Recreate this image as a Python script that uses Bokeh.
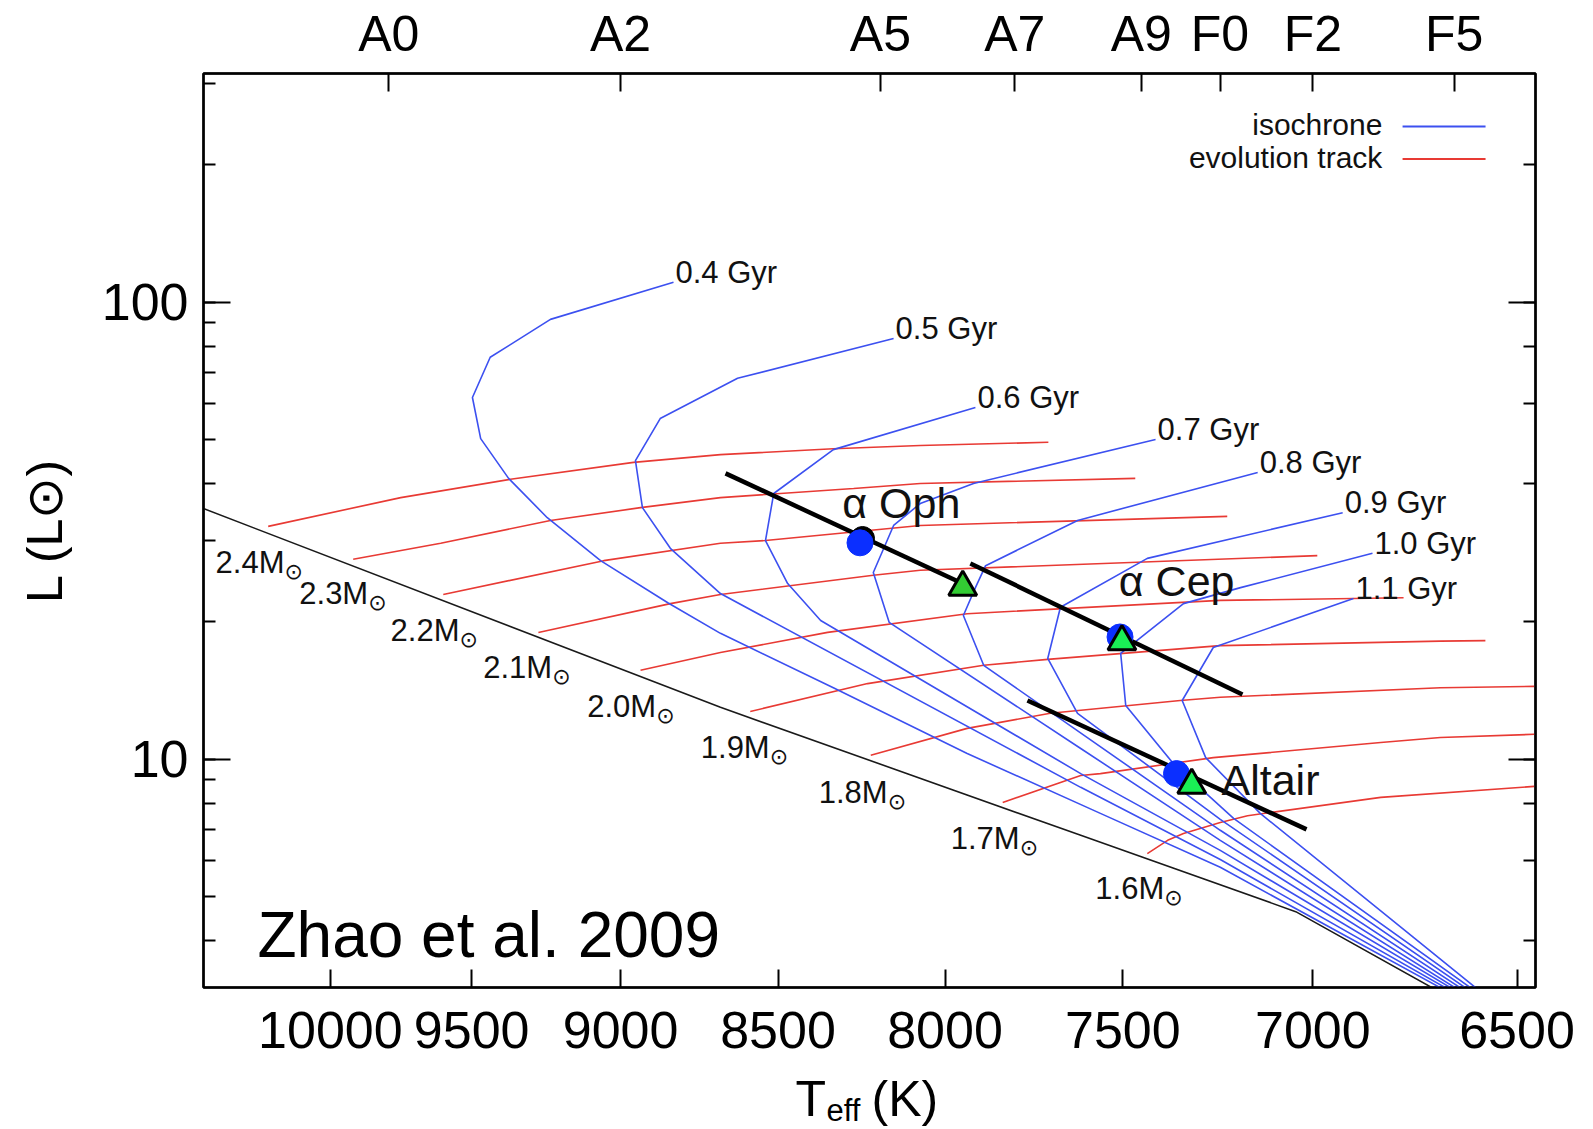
import numpy as np
from bokeh.plotting import figure
from bokeh.layouts import column
from bokeh.models import Range1d, FixedTicker, LogAxis, NumeralTickFormatter
from bokeh.core.properties import value
from bokeh.embed import file_html
from bokeh.resources import INLINE

FONT = "Liberation Sans"

# ---------------- data (log10 Teff [K], log10 L [Lsun]) ----------------
zams_logT = [4.0200, 3.9385, 3.8817, 3.8478, 3.8261]
zams_logL = [1.548, 1.113, 0.833, 0.666, 0.498]

track_masses = ["2.4", "2.3", "2.2", "2.1", "2.0", "1.9", "1.8", "1.7", "1.6"]
track_logT = [
    [4.0098, 3.9889, 3.9716, 3.9522, 3.9385, 3.9207, 3.9070, 3.8868],
    [3.9964, 3.9826, 3.9653, 3.9511, 3.9385, 3.9175, 3.9070, 3.8731],
    [3.9822, 3.9569, 3.9385, 3.9314, 3.9070, 3.8586],
    [3.9672, 3.9464, 3.9385, 3.9144, 3.9070, 3.8444],
    [3.9511, 3.9385, 3.9216, 3.8996, 3.8597, 3.8308],
    [3.9338, 3.9153, 3.8970, 3.8869, 3.8597, 3.8250, 3.8179],
    [3.9148, 3.8996, 3.8865, 3.8660, 3.8597, 3.8250, 3.8102],
    [3.8940, 3.8817, 3.8786, 3.8608, 3.8344, 3.8250, 3.8102],
    [3.8712, 3.8680, 3.8655, 3.8597, 3.8554, 3.8344, 3.8102],
]
track_logL = [
    [1.509, 1.572, 1.612, 1.649, 1.666, 1.679, 1.686, 1.693],
    [1.437, 1.472, 1.522, 1.550, 1.572, 1.592, 1.603, 1.614],
    [1.360, 1.434, 1.472, 1.478, 1.511, 1.531],
    [1.277, 1.340, 1.360, 1.402, 1.413, 1.445],
    [1.194, 1.233, 1.277, 1.318, 1.347, 1.353],
    [1.104, 1.165, 1.205, 1.218, 1.248, 1.258, 1.259],
    [1.008, 1.067, 1.100, 1.128, 1.135, 1.156, 1.159],
    [0.905, 0.964, 0.968, 1.003, 1.036, 1.047, 1.054],
    [0.793, 0.822, 0.837, 0.861, 0.876, 0.916, 0.940],
]
# mass label anchors (left / baseline)
mass_label_logT = [4.0181, 4.0049, 3.9905, 3.9759, 3.9595, 3.9416, 3.9230, 3.9022, 3.8794]
mass_label_logL = [1.408, 1.340, 1.259, 1.178, 1.093, 1.003, 0.905, 0.804, 0.695]

iso_ages = ["0.4 Gyr", "0.5 Gyr", "0.6 Gyr", "0.7 Gyr", "0.8 Gyr", "0.9 Gyr", "1.0 Gyr", "1.1 Gyr"]
iso_logT = [
    [3.9459, 3.9653, 3.9748, 3.9776, 3.9763, 3.9719, 3.9658, 3.9574, 3.9468, 3.9385, 3.9207, 3.8996, 3.8786, 3.8597, 3.8248],
    [3.9112, 3.9358, 3.9480, 3.9519, 3.9508, 3.9464, 3.9385, 3.8817, 3.8597, 3.8240],
    [3.8983, 3.9207, 3.9301, 3.9314, 3.9279, 3.9227, 3.8817, 3.8597, 3.8232],
    [3.8699, 3.8986, 3.9070, 3.9112, 3.9144, 3.9119, 3.8817, 3.8597, 3.8225],
    [3.8538, 3.8822, 3.8967, 3.8983, 3.9002, 3.8970, 3.8597, 3.8217],
    [3.8404, 3.8712, 3.8849, 3.8869, 3.8822, 3.8597, 3.8209],
    [3.8357, 3.8565, 3.8655, 3.8734, 3.8754, 3.8746, 3.8671, 3.8576, 3.8201],
    [3.8387, 3.8608, 3.8657, 3.8620, 3.8534, 3.8193],
]
iso_logL = [
    [2.043, 1.962, 1.879, 1.791, 1.701, 1.614, 1.528, 1.434, 1.342, 1.275, 1.156, 1.012, 0.881, 0.763, 0.498],
    [1.920, 1.833, 1.745, 1.653, 1.550, 1.461, 1.362, 0.938, 0.780, 0.498],
    [1.769, 1.677, 1.581, 1.478, 1.384, 1.303, 0.968, 0.800, 0.498],
    [1.699, 1.603, 1.559, 1.511, 1.408, 1.299, 1.023, 0.822, 0.498],
    [1.627, 1.522, 1.423, 1.375, 1.314, 1.205, 0.844, 0.498],
    [1.539, 1.439, 1.332, 1.220, 1.100, 0.868, 0.498],
    [1.450, 1.375, 1.340, 1.253, 1.231, 1.117, 0.990, 0.870, 0.498],
    [1.351, 1.244, 1.128, 1.003, 0.881, 0.498],
]

star_names = ["\u03b1 Oph", "\u03b1 Cep", "Altair"]
star_label_logT = [3.9193, 3.8757, 3.8595]
star_label_logL = [1.528, 1.356, 0.922]
circle_logT = [3.9165, 3.8755, 3.8666]
circle_logL = [1.473, 1.267, 0.968]
triangle_logT = [3.9003, 3.8752, 3.8642]
triangle_logL = [1.376, 1.257, 0.943]
triangle_colors = ["#33cc33", "#1aee55", "#1aee55"]
behind_logT = [3.9161]
behind_logL = [1.4825]
# thick black segments through the stars (start, end)
seg_logT0 = [3.9377, 3.8991, 3.8901]
seg_logL0 = [1.625, 1.428, 1.128]
seg_logT1 = [3.8994, 3.8562, 3.8461]
seg_logL1 = [1.378, 1.141, 0.846]

teff_ticks = [10000, 9500, 9000, 8500, 8000, 7500, 7000, 6500]
spectral_types = ["A0", "A2", "A5", "A7", "A9", "F0", "F2", "F5"]
spectral_teff = [9790.0, 9000.0, 8190.0, 7800.0, 7450.0, 7240.0, 7000.0, 6650.0]

X_LOG = (4.02, 3.81)
Y_LOG = (0.5, 2.5)

W = 1593
H_MAIN = 1069
H_TITLE = 60
FRAME_LEFT, FRAME_RIGHT, FRAME_TOP, FRAME_BOTTOM = 203, 1535, 73, 987


def lin(a):
    return list(10 ** np.asarray(a, dtype=float))


def frame_pos(fx, fy):
    return (10 ** (X_LOG[0] + fx * (X_LOG[1] - X_LOG[0])),
            10 ** (Y_LOG[0] + fy * (Y_LOG[1] - Y_LOG[0])))


BLUE = "#3c50f0"
RED = "#e83a34"

p = figure(width=W, height=H_MAIN, x_axis_type="log", y_axis_type="log",
           x_range=Range1d(10 ** X_LOG[0], 10 ** X_LOG[1]),
           y_range=Range1d(10 ** Y_LOG[0], 10 ** Y_LOG[1]),
           output_backend="svg", toolbar_location=None,
           min_border_left=FRAME_LEFT, min_border_right=W - FRAME_RIGHT,
           min_border_top=FRAME_TOP, min_border_bottom=H_MAIN - FRAME_BOTTOM,
           background_fill_color="white", border_fill_color="white")
p.xgrid.visible = False
p.ygrid.visible = False
p.outline_line_color = "black"
p.outline_line_width = 2.5

# bottom axis
xa = p.xaxis[0]
xa.ticker = FixedTicker(ticks=teff_ticks, minor_ticks=[])
xa.formatter = NumeralTickFormatter(format="0")
xa.major_label_text_font = FONT
xa.major_label_text_font_size = "52px"
xa.major_label_text_color = "black"
xa.major_tick_in = 18
xa.major_tick_out = 0
xa.minor_tick_in = 0
xa.minor_tick_out = 0
xa.major_tick_line_width = 2
xa.axis_line_width = 2
xa.major_label_standoff = 24

# top axis with spectral types
top = LogAxis(ticker=FixedTicker(ticks=spectral_teff, minor_ticks=[]),
              major_label_overrides={t: s for t, s in zip(spectral_teff, spectral_types)})
top.major_label_text_font = FONT
top.major_label_text_font_size = "50px"
top.major_label_text_color = "black"
top.major_tick_in = 18
top.major_tick_out = 0
top.minor_tick_in = 0
top.minor_tick_out = 0
top.major_tick_line_width = 2
top.axis_line_width = 2
top.major_label_standoff = 12
p.add_layout(top, "above")

# left axis
ya = p.yaxis[0]
ya.formatter = NumeralTickFormatter(format="0")
ya.major_label_text_font = FONT
ya.major_label_text_font_size = "52px"
ya.major_label_text_color = "black"
ya.major_tick_in = 27
ya.major_tick_out = 0
ya.minor_tick_in = 12
ya.minor_tick_out = 0
ya.major_tick_line_width = 2
ya.minor_tick_line_width = 2
ya.axis_line_width = 2
ya.major_label_standoff = 15
ya.axis_label = "L (L\u2299)"
ya.axis_label_text_font = FONT
ya.axis_label_text_font_size = "50px"
ya.axis_label_text_font_style = "normal"
ya.axis_label_text_color = "black"
ya.axis_label_standoff = 26

# right axis (ticks only, labels invisible)
ra = LogAxis(major_label_text_font_size="2px", major_label_text_alpha=0.0,
             major_label_standoff=0)
ra.major_tick_in = 27
ra.major_tick_out = 0
ra.minor_tick_in = 12
ra.minor_tick_out = 0
ra.major_tick_line_width = 2
ra.minor_tick_line_width = 2
ra.axis_line_width = 2
p.add_layout(ra, "right")

# ZAMS
p.line(lin(zams_logT), lin(zams_logL), line_color="#1a1a1a", line_width=1.6)

# evolution tracks
for lt, ll in zip(track_logT, track_logL):
    p.line(lin(lt), lin(ll), line_color=RED, line_width=1.6)

# isochrones
for lt, ll in zip(iso_logT, iso_logL):
    p.line(lin(lt), lin(ll), line_color=BLUE, line_width=1.6)

# isochrone labels at the upper end of each isochrone
p.text(x=lin([t[0] for t in iso_logT]), y=lin([l[0] for l in iso_logL]), text=iso_ages,
       text_font=value(FONT), text_font_size="31px", text_color="#111111",
       text_align="left", text_baseline="alphabetic", x_offset=2, y_offset=-10)

# mass labels
p.text(x=lin(mass_label_logT), y=lin(mass_label_logL), text=[m + "M" for m in track_masses],
       text_font=value(FONT), text_font_size="31px", text_color="#111111",
       text_align="left", text_baseline="alphabetic", y_offset=-10)
p.text(x=lin(mass_label_logT), y=lin(mass_label_logL), text=["\u2299"] * len(track_masses),
       text_font=value("DejaVu Sans"), text_font_size="22px", text_color="#111111",
       text_align="left", text_baseline="middle", x_offset=69, y_offset=-1)

# thick black segments
p.segment(x0=lin(seg_logT0), y0=lin(seg_logL0), x1=lin(seg_logT1), y1=lin(seg_logL1),
          line_color="black", line_width=4.5)

# stars
p.scatter(lin(behind_logT), lin(behind_logL), marker="circle", size=24,
          fill_color="black", line_color="black")
p.scatter(lin(circle_logT), lin(circle_logL), marker="circle", size=26,
          fill_color="#0b2fff", line_color="#0b2fff")
p.scatter(lin(triangle_logT), lin(triangle_logL), marker="triangle", size=28,
          fill_color=triangle_colors, line_color="black", line_width=3)
p.text(x=lin(star_label_logT), y=lin(star_label_logL), text=star_names,
       text_font=value(FONT), text_font_size="43px", text_color="#111111",
       text_align="left", text_baseline="alphabetic", y_offset=-15)

# legend (top right)
lx, ly1 = frame_pos(0.885, 0.9354)
_, ly2 = frame_pos(0.885, 0.8993)
p.text(x=[lx, lx], y=[ly1, ly2], text=["isochrone", "evolution track"],
       text_font=value(FONT), text_font_size="30px", text_color="#111111",
       text_align="right", text_baseline="alphabetic", y_offset=-8)
for fy, col in [(0.942, BLUE), (0.9064, RED)]:
    xa0, yy = frame_pos(0.9002, fy)
    xa1, _ = frame_pos(0.9625, fy)
    p.line([xa0, xa1], [yy, yy], line_color=col, line_width=2)

# citation
zx, zy = frame_pos(0.0405, 0.035)
p.text(x=[zx], y=[zy], text=["Zhao et al. 2009"], text_font=value(FONT),
       text_font_size="64px", text_color="black", text_align="left", text_baseline="alphabetic",
       y_offset=-21)

# ---- x-axis title strip:  T_eff (K)  (own small canvas so the subscript can be placed freely)
# its frame is aligned with the main frame by the column layout, so x is in page pixels
t = figure(width=W, height=H_TITLE, x_range=Range1d(FRAME_LEFT, FRAME_RIGHT),
           y_range=Range1d(0, H_TITLE),
           output_backend="svg", toolbar_location=None, x_axis_location=None,
           y_axis_location=None, min_border=0, outline_line_color=None,
           background_fill_color="white", border_fill_color="white")
t.xgrid.visible = False
t.ygrid.visible = False
t.text(x=[795, 871], y=[30.5, 30.5], text=["T", "(K)"], text_font=value(FONT),
       text_font_size="50px", text_color="black", text_align="left", text_baseline="alphabetic")
t.text(x=[826], y=[19], text=["eff"], text_font=value(FONT),
       text_font_size="31px", text_color="black", text_align="left", text_baseline="alphabetic")

layout = column(p, t, spacing=0)
open("out.html", "w").write(file_html(layout, INLINE))
